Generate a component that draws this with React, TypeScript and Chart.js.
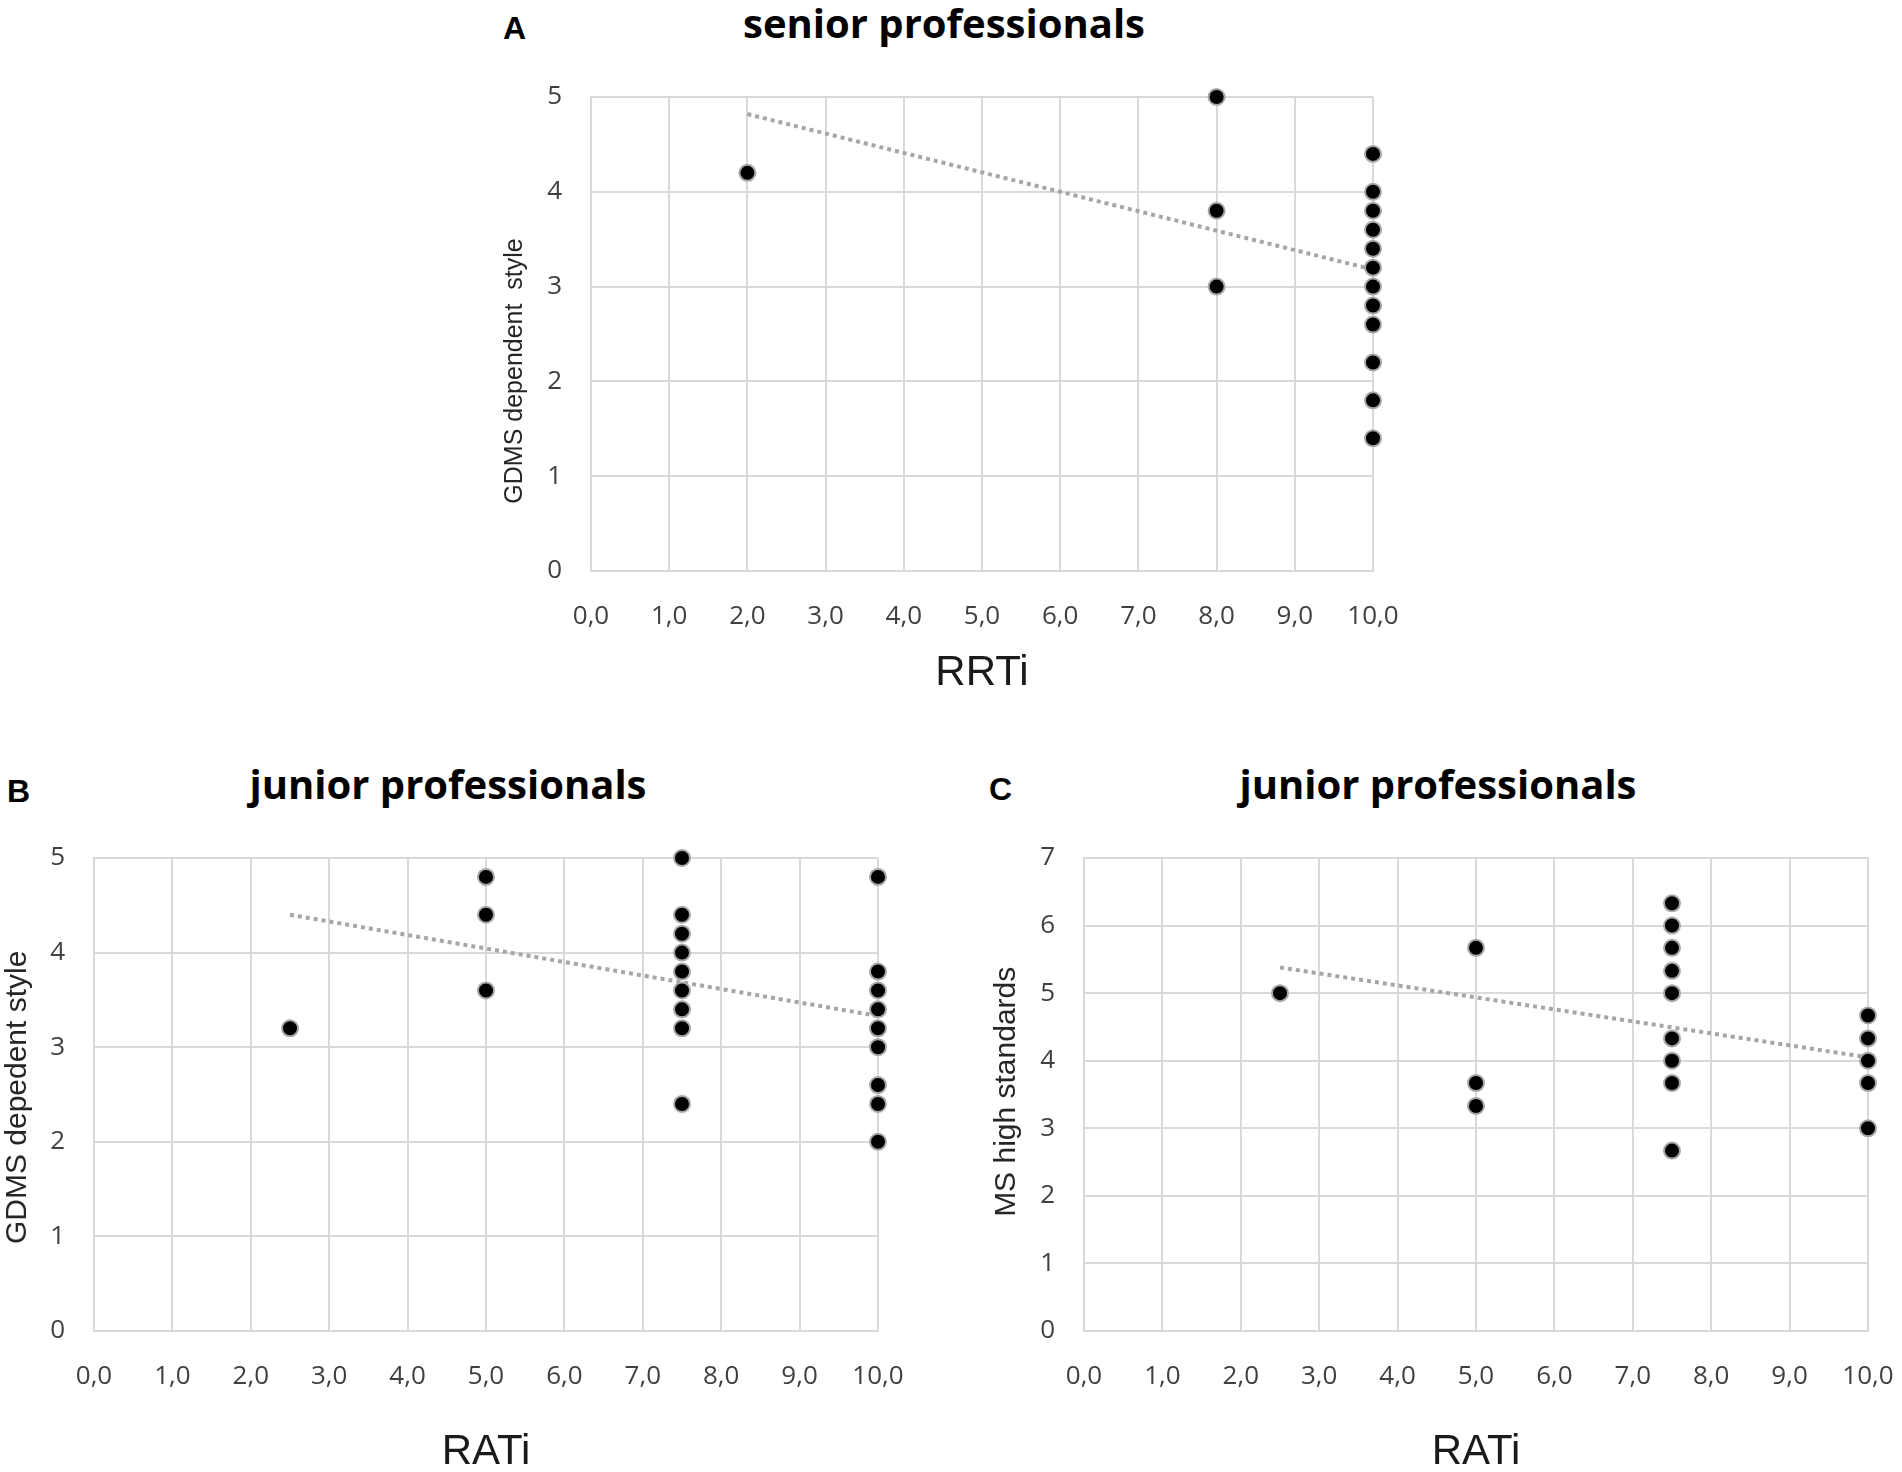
import React, { useEffect, useRef } from "react";
import { Chart, registerables } from "chart.js";

Chart.register(...registerables);

// ---------- data ----------
const xTickValues = [0, 1, 2, 3, 4, 5, 6, 7, 8, 9, 10];

// Panel A – senior professionals
const seniorRRTi = [2, 8, 8, 8, 10, 10, 10, 10, 10, 10, 10, 10, 10, 10, 10, 10];
const seniorGDMS = [4.2, 5.0, 3.8, 3.0, 4.4, 4.0, 3.8, 3.6, 3.4, 3.2, 3.0, 2.8, 2.6, 2.2, 1.8, 1.4];
const seniorTrendX = [2, 10];
const seniorTrendY = [4.82, 3.18];

// Panel B – junior professionals, GDMS
const juniorRATiB = [2.5, 5, 5, 5, 7.5, 7.5, 7.5, 7.5, 7.5, 7.5, 7.5, 7.5, 7.5, 10, 10, 10, 10, 10, 10, 10, 10, 10];
const juniorGDMS = [3.2, 4.8, 4.4, 3.6, 5.0, 4.4, 4.2, 4.0, 3.8, 3.6, 3.4, 3.2, 2.4, 4.8, 3.8, 3.6, 3.4, 3.2, 3.0, 2.6, 2.4, 2.0];
const juniorTrendBX = [2.5, 10];
const juniorTrendBY = [4.4, 3.33];

// Panel C – junior professionals, MS high standards
const juniorRATiC = [2.5, 5, 5, 5, 7.5, 7.5, 7.5, 7.5, 7.5, 7.5, 7.5, 7.5, 7.5, 10, 10, 10, 10, 10];
const juniorMS = [5.0, 5.67, 3.67, 3.33, 6.33, 6.0, 5.67, 5.33, 5.0, 4.33, 4.0, 3.67, 2.67, 4.67, 4.33, 4.0, 3.67, 3.0];
const juniorTrendCX = [2.5, 10];
const juniorTrendCY = [5.38, 4.05];

type Geo = {
  left: number; top: number; width: number; height: number;
  pad: { left: number; right: number; top: number; bottom: number };
  yAxisWidth: number; xAxisHeight: number; xTitlePad: number;
  yTitleSize: number; yTitleX: number; yTitleCenter: number;
};

type PanelProps = {
  xs: number[]; ys: number[]; tx: number[]; ty: number[];
  yMax: number; yTitle: string; xTitle: string; geo: Geo;
};

const GRID = "#d9d9d9";

// draws the rotated y-axis title at a position given in y-scale units
const yTitlePlugin = {
  id: "yTitlePlugin",
  afterDraw(chart: any, _args: any, opts: any) {
    if (!opts || !opts.text) return;
    const ctx = chart.ctx;
    const y = chart.scales.y.getPixelForValue(opts.center);
    ctx.save();
    ctx.translate(opts.x, y);
    ctx.rotate(-Math.PI / 2);
    ctx.font = `${opts.size}px "Liberation Sans", Arial, sans-serif`;
    ctx.fillStyle = opts.color;
    ctx.textAlign = "center";
    ctx.textBaseline = "middle";
    ctx.fillText(opts.text, 0, 0);
    ctx.restore();
  },
};

function Panel({ xs, ys, tx, ty, yMax, yTitle, xTitle, geo }: PanelProps) {
  const ref = useRef<HTMLCanvasElement | null>(null);
  useEffect(() => {
    if (!ref.current) return;
    const pts = xs.map((x, i) => ({ x, y: ys[i] }));
    const trend = tx.map((x, i) => ({ x, y: ty[i] }));
    const chart = new Chart(ref.current, {
      type: "scatter",
      data: {
        datasets: [
          {
            data: pts,
            pointRadius: 8,
            pointHoverRadius: 8,
            pointBackgroundColor: "#000000",
            pointBorderColor: "#a6a6a6",
            pointBorderWidth: 2,
            clip: false,
            order: 1,
          } as any,
          {
            type: "line",
            data: trend,
            showLine: true,
            pointRadius: 0,
            borderColor: "#a6a6a6",
            borderWidth: 4,
            borderDash: [4, 4],
            fill: false,
            clip: false,
            order: 2,
          } as any,
        ],
      },
      plugins: [yTitlePlugin],
      options: {
        animation: false,
        responsive: false,
        devicePixelRatio: 1,
        layout: { padding: geo.pad },
        plugins: {
          legend: { display: false },
          tooltip: { enabled: false },
          title: { display: false },
          yTitlePlugin: {
            text: yTitle,
            x: geo.yTitleX,
            center: geo.yTitleCenter,
            size: geo.yTitleSize,
            color: "#262626",
          },
        } as any,
        scales: {
          x: {
            type: "linear",
            min: 0,
            max: 10,
            afterBuildTicks: (scale: any) => {
              scale.ticks = xTickValues.map((v) => ({ value: v }));
            },
            afterFit: (scale: any) => {
              scale.height = geo.xAxisHeight;
              scale.paddingLeft = 0;
              scale.paddingRight = 0;
            },
            ticks: {
              padding: 30,
              color: "#404040",
              font: { family: "Open Sans", size: 26 },
              callback: (v: any) => Number(v).toFixed(1).replace(".", ","),
              maxRotation: 0,
            },
            grid: { color: GRID, lineWidth: 2, drawTicks: false },
            border: { color: GRID, width: 2 },
            title: {
              display: true,
              text: xTitle,
              color: "#1a1a1a",
              font: { family: "Liberation Sans", size: 42 },
              padding: { top: 0, bottom: geo.xTitlePad },
            },
          },
          y: {
            type: "linear",
            min: 0,
            max: yMax,
            afterFit: (scale: any) => {
              scale.width = geo.yAxisWidth;
            },
            ticks: {
              stepSize: 1,
              padding: 29,
              color: "#404040",
              font: { family: "Open Sans", size: 26 },
            },
            grid: { color: GRID, lineWidth: 2, drawTicks: false },
            border: { color: GRID, width: 2 },
            title: { display: false },
          },
        },
      },
    });
    return () => chart.destroy();
  }, []);
  return (
    <canvas
      ref={ref}
      width={geo.width}
      height={geo.height}
      style={{ position: "absolute", left: geo.left, top: geo.top, width: geo.width, height: geo.height }}
    />
  );
}

const titleStyle = (cx: number, top: number): React.CSSProperties => ({
  position: "absolute",
  left: cx,
  top,
  transform: "translateX(-50%)",
  fontFamily: "'Open Sans', sans-serif",
  fontWeight: 700,
  fontSize: 40,
  lineHeight: "40px",
  whiteSpace: "nowrap",
  color: "#000",
});

const letterStyle = (left: number, top: number): React.CSSProperties => ({
  position: "absolute",
  left,
  top,
  fontFamily: "'Liberation Sans', Arial, sans-serif",
  fontWeight: 700,
  fontSize: 32,
  lineHeight: "32px",
  color: "#000",
});

const geoA: Geo = {
  left: 460, top: 0, width: 960, height: 720,
  pad: { left: 20, right: 47, top: 97, bottom: 19 },
  yAxisWidth: 111, xAxisHeight: 130, xTitlePad: 2,
  yTitleSize: 25, yTitleX: 55, yTitleCenter: 2.11,
};
const geoB: Geo = {
  left: 0, top: 740, width: 920, height: 732,
  pad: { left: 0, right: 42, top: 118, bottom: 0 },
  yAxisWidth: 94, xAxisHeight: 141, xTitlePad: -5.7,
  yTitleSize: 30, yTitleX: 18, yTitleCenter: 2.47,
};
const geoC: Geo = {
  left: 980, top: 740, width: 922, height: 732,
  pad: { left: 0, right: 34, top: 118, bottom: 0 },
  yAxisWidth: 104, xAxisHeight: 141, xTitlePad: -5.7,
  yTitleSize: 30, yTitleX: 27, yTitleCenter: 3.54,
};

export default function App() {
  return (
    <div
      style={{
        position: "absolute",
        left: 0,
        top: 0,
        width: 1902,
        height: 1472,
        overflow: "hidden",
        background: "#ffffff",
      }}
    >
      <div style={letterStyle(503, 12)}>A</div>
      <div style={titleStyle(944, 3)}>senior professionals</div>
      <Panel xs={seniorRRTi} ys={seniorGDMS} tx={seniorTrendX} ty={seniorTrendY} yMax={5}
        yTitle="GDMS dependent  style" xTitle="RRTi" geo={geoA} />

      <div style={letterStyle(7, 775)}>B</div>
      <div style={titleStyle(448, 764)}>junior professionals</div>
      <Panel xs={juniorRATiB} ys={juniorGDMS} tx={juniorTrendBX} ty={juniorTrendBY} yMax={5}
        yTitle="GDMS depedent style" xTitle="RATi" geo={geoB} />

      <div style={letterStyle(989, 773)}>C</div>
      <div style={titleStyle(1438, 764)}>junior professionals</div>
      <Panel xs={juniorRATiC} ys={juniorMS} tx={juniorTrendCX} ty={juniorTrendCY} yMax={7}
        yTitle="MS high standards" xTitle="RATi" geo={geoC} />
    </div>
  );
}
